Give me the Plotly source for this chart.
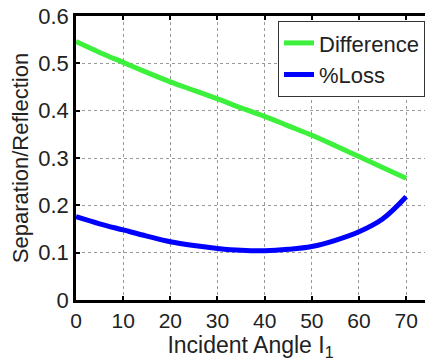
import plotly.graph_objects as go

angles = [0, 5, 10, 15, 20, 25, 30, 35, 40, 45, 50, 55, 60, 65, 70]
difference = [0.546, 0.523, 0.502, 0.481, 0.461, 0.443, 0.425, 0.406, 0.388, 0.368, 0.348, 0.326, 0.303, 0.280, 0.257]
loss = [0.176, 0.161, 0.148, 0.135, 0.123, 0.115, 0.109, 0.105, 0.104, 0.107, 0.113, 0.126, 0.144, 0.171, 0.218]
x_ticks = [0, 10, 20, 30, 40, 50, 60, 70]
y_ticks = [0, 0.1, 0.2, 0.3, 0.4, 0.5, 0.6]
y_tick_text = ["0", "0.1", "0.2", "0.3", "0.4", "0.5", "0.6"]

FONT = "Liberation Sans, Arial, sans-serif"

fig = go.Figure()
fig.add_trace(go.Scatter(x=angles, y=difference, mode="lines", name="Difference",
                         line=dict(color="#3cf03c", width=5, shape="spline")))
fig.add_trace(go.Scatter(x=angles, y=loss, mode="lines", name="%Loss",
                         line=dict(color="#0000ff", width=5, shape="spline")))

fig.update_layout(
    width=425, height=364, autosize=False,
    margin=dict(l=76, r=0, t=16, b=64),
    plot_bgcolor="white", paper_bgcolor="white",
    font=dict(family=FONT, size=21, color="#222"),
    showlegend=True,
    legend=dict(x=1, y=0.982, xanchor="right", yanchor="top",
                xref="paper", yref="paper",
                bgcolor="white", bordercolor="#333", borderwidth=1,
                font=dict(size=22), tracegroupgap=0, itemwidth=30),
    xaxis=dict(range=[0, 74.0], tickvals=x_ticks, ticks="inside", ticklen=4,
               tickwidth=1.5, tickcolor="black", tickfont=dict(size=21),
               showline=True, linecolor="black", linewidth=2.5, mirror="ticks",
               showgrid=True, gridcolor="#999", griddash="dot", gridwidth=1,
               zeroline=False,
               title=dict(text="Incident Angle I<sub>1</sub>", standoff=4,
                          font=dict(size=23))),
    yaxis=dict(range=[0, 0.6], tickvals=y_ticks, ticktext=y_tick_text,
               ticks="inside", ticklen=4, tickwidth=1.5, tickcolor="black",
               tickfont=dict(size=22),
               showline=True, linecolor="black", linewidth=2.5, mirror=False,
               showgrid=True, gridcolor="#999", griddash="dot", gridwidth=1,
               zeroline=False,
               title=dict(text="Separation/Reflection", standoff=4,
                          font=dict(size=22))),
)

fig.write_html("out.html")
